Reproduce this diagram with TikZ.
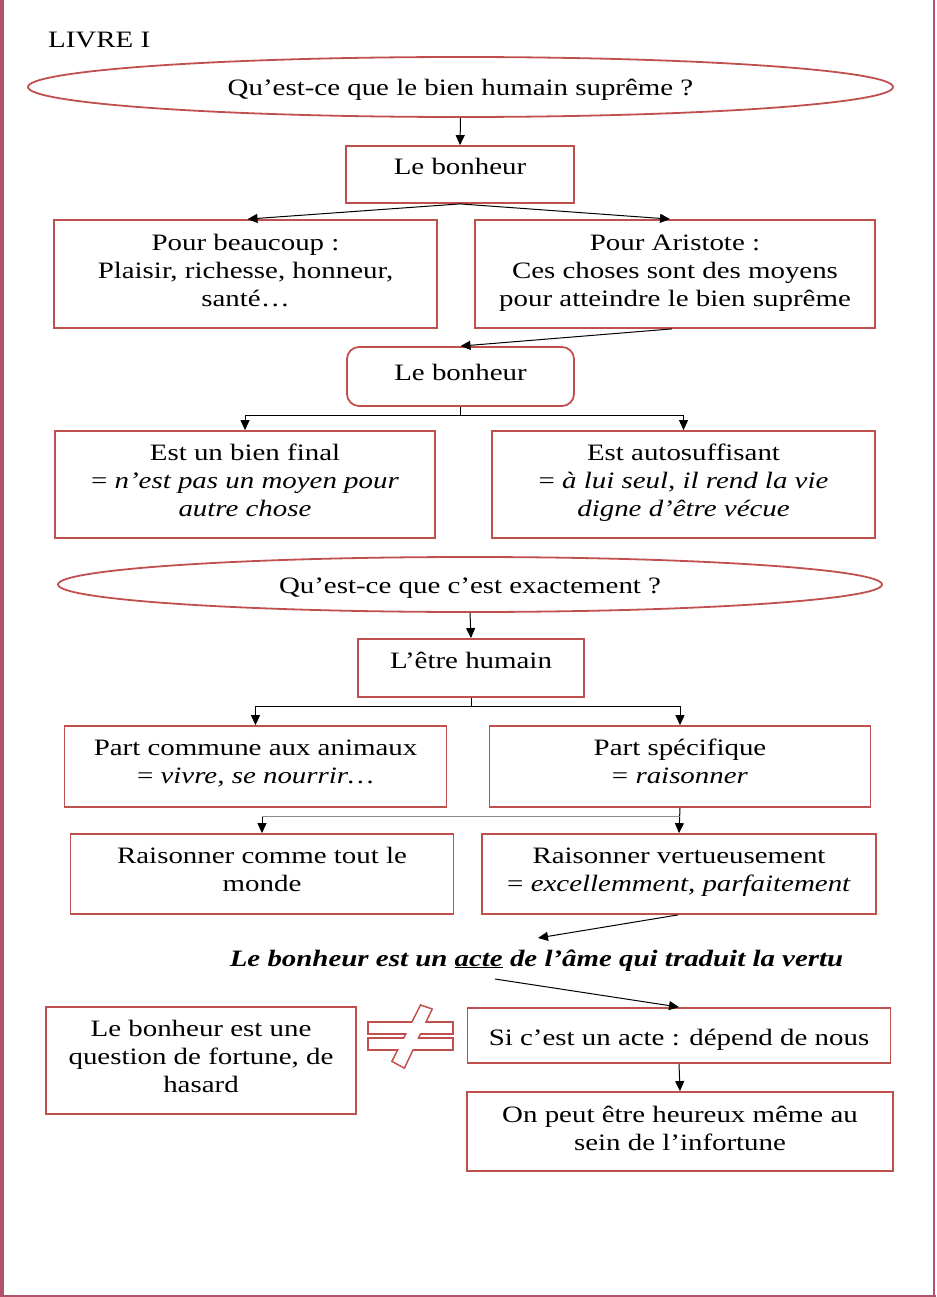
\documentclass[tikz,border=0pt]{standalone}
\usepackage{fontspec}
\setmainfont{Liberation Serif}[FakeStretch=1.23]
\usetikzlibrary{shapes.geometric,arrows.meta}
\definecolor{boxred}{RGB}{192,80,77}
\definecolor{framecol}{RGB}{178,82,108}
\newcommand\bxt[4]{\parbox[c][#2][t]{#1}{\centering\rule{0pt}{#3}#4\par}}
\newcommand\lowtxt[1]{\raisebox{0pt}[23pt][5.5pt]{#1}}
\begin{document}
\begin{tikzpicture}[x=1pt,y=-1pt,
  txtfont/.style={font=\fontsize{23.5}{28}\selectfont},
  box/.style={draw=boxred, line width=1.8pt, inner sep=0pt, txtfont},
  rbox/.style={box, rounded corners=12pt},
  oval/.style={ellipse, draw=boxred, line width=1.8pt, inner sep=0pt, txtfont},
  arr/.style={-{Triangle[length=10pt,width=9pt]}, line width=1pt},
  plain/.style={inner sep=0pt, txtfont}]
\useasboundingbox (0,0) rectangle (936,1297);
% frame
\fill[framecol] (0,0) rectangle (3.5,1297);
\fill[framecol] (932.5,0) rectangle (935,1297);
\fill[framecol] (0,1294.8) rectangle (936,1297);

\node[plain, anchor=base west] (livre) at (48,48) {LIVRE I};

\node[oval, minimum width=865pt, minimum height=60pt] (e1) at (460.5,87) {\lowtxt{Qu’est-ce que le bien humain suprême ?}};
\node[box] (b1) at (460,174.5) {\bxt{228pt}{57pt}{29pt}{Le bonheur}};
\node[box] (pb) at (245.5,274) {\bxt{383pt}{108pt}{30pt}{Pour beaucoup :\\Plaisir, richesse, honneur,\\santé…}};
\node[box] (pa) at (675,274) {\bxt{400pt}{108pt}{30pt}{Pour Aristote :\\Ces choses sont des moyens\\pour atteindre le bien suprême}};
\node[rbox] (b2) at (460.5,376.5) {\bxt{227pt}{59pt}{33pt}{Le bonheur}};
\node[box] (bf) at (245,484.5) {\bxt{380pt}{107pt}{29pt}{Est un bien final\\= \textit{n’est pas un moyen pour}\\\textit{autre chose}}};
\node[box] (as) at (683.5,484.5) {\bxt{383pt}{107pt}{29pt}{Est autosuffisant\\= \textit{à lui seul, il rend la vie}\\\textit{digne d’être vécue}}};

\node[oval, minimum width=824pt, minimum height=55pt] (e2) at (470,584.5) {\lowtxt{Qu’est-ce que c’est exactement ?}};
\node[box] (eh) at (471,668) {\bxt{226pt}{58pt}{29pt}{L’être humain}};
\node[box] (pc) at (255.5,766.5) {\bxt{382pt}{81pt}{29pt}{Part commune aux animaux\\= \textit{vivre, se nourrir…}}};
\node[box] (ps) at (680,766.5) {\bxt{381pt}{81pt}{29pt}{Part spécifique\\= \textit{raisonner}}};
\node[box] (rc) at (262,874) {\bxt{383pt}{80pt}{29pt}{Raisonner comme tout le\\monde}};
\node[box] (rv) at (679,874) {\bxt{394pt}{80pt}{29pt}{Raisonner vertueusement\\= \textit{excellemment, parfaitement}}};

\node[plain, anchor=base] (phrase) at (536.5,966) {\bfseries\itshape Le bonheur est un \underline{acte} de l’âme qui traduit la vertu};
\coordinate (tophr) at (538,938);
\coordinate (acte) at (495,979);

\node[box] (si) at (679,1035.5) {\bxt{423pt}{55pt}{37pt}{Si c’est un acte : dépend de nous}};
\node[box] (on) at (680,1131.5) {\bxt{426.5pt}{79pt}{30pt}{On peut être heureux même au\\sein de l’infortune}};
\node[box] (lb) at (201,1060.5) {\bxt{310pt}{107pt}{29pt}{Le bonheur est une\\question de fortune, de\\hasard}};

% not equal sign
\begin{scope}[line width=3.2pt, draw=boxred]
\draw (369,1023) rectangle (452,1033);
\draw (369,1039) rectangle (452,1049);
\draw (421,1006) -- (431,1009.5) -- (404,1067) -- (393,1061) -- cycle;
\fill[white] (369,1023) rectangle (452,1033);
\fill[white] (369,1039) rectangle (452,1049);
\fill[white] (421,1006) -- (431,1009.5) -- (404,1067) -- (393,1061) -- cycle;
\end{scope}

% connectors
\draw[arr] (e1.south) -- (b1.north);
\draw[arr] (b1.south) -- ([xshift=2pt]pb.north);
\draw[arr] (b1.south) -- ([xshift=-5pt]pa.north);
\draw[arr] ([xshift=-3pt]pa.south) -- (b2.north);
\draw[arr] (b2.south) -- ++(0,9) -| (bf.north);
\draw[arr] (b2.south) -- ++(0,9) -| (as.north);
\draw[arr] (e2.south) -- (eh.north);
\draw[arr] (eh.south) -- ++(0,9) -| (pc.north);
\draw[arr] (eh.south) -- ++(0,9) -| (ps.north);
\draw[arr] (ps.south) -- (rv.north);
\coordinate (psk) at ([yshift=-9pt]ps.south);
\draw[line width=1pt, black!45] (psk) -- (psk -| rc.north);
\draw[arr] (psk -| rc.north) -- (rc.north);
\draw[arr] ([xshift=-1pt]rv.south) -- (tophr);
\draw[arr] (acte) -- (si.north);
\draw[arr] (si.south) -- (on.north);
\end{tikzpicture}
\end{document}
